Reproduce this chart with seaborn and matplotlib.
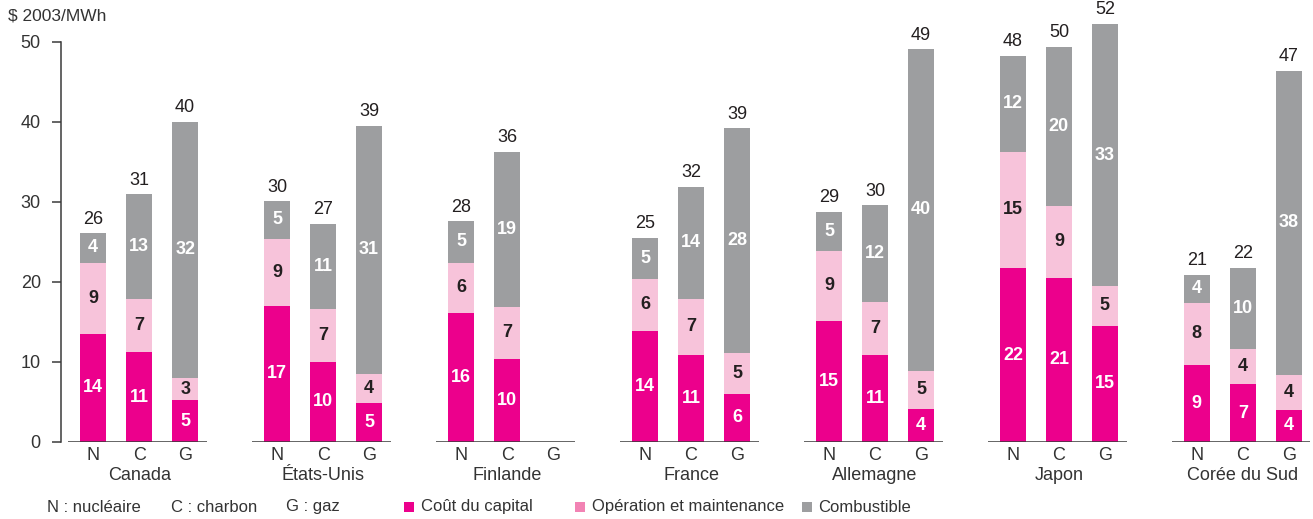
import numpy as np
import pandas as pd
import matplotlib
matplotlib.use("Agg")
import matplotlib.pyplot as plt
from matplotlib.patches import Rectangle
import seaborn as sns

# ---------------- data ----------------
countries = ["Canada", "États-Unis", "Finlande", "France", "Allemagne", "Japon", "Corée du Sud"]
techs = ["N", "C", "G"]

capital = [[13.5, 11.25, 5.25], [17.0, 10.0, 4.9], [16.1, 10.4, None], [13.9, 10.9, 6.0],
           [15.1, 10.9, 4.1], [21.75, 20.5, 14.5], [9.6, 7.25, 4.0]]
om = [[8.9, 6.6, 2.75], [8.4, 6.6, 3.6], [6.3, 6.5, None], [6.5, 7.0, 5.1],
      [8.8, 6.6, 4.8], [14.5, 9.0, 5.0], [7.8, 4.4, 4.4]]
fuel = [[3.7, 13.1, 32.0], [4.7, 10.65, 31.0], [5.2, 19.4, None], [5.1, 14.0, 28.1],
        [4.85, 12.1, 40.2], [12.0, 19.9, 32.75], [3.5, 10.1, 38.0]]

cap_labels = [[14, 11, 5], [17, 10, 5], [16, 10, None], [14, 11, 6], [15, 11, 4], [22, 21, 15], [9, 7, 4]]
om_labels = [[9, 7, 3], [9, 7, 4], [6, 7, None], [6, 7, 5], [9, 7, 5], [15, 9, 5], [8, 4, 4]]
fuel_labels = [[4, 13, 32], [5, 11, 31], [5, 19, None], [5, 14, 28], [5, 12, 40], [12, 20, 33], [4, 10, 38]]
total_labels = [[26, 31, 40], [30, 27, 39], [28, 36, None], [25, 32, 39], [29, 30, 49], [48, 50, 52], [21, 22, 47]]

y_ticks = [0, 10, 20, 30, 40, 50]
unit_label = "$ 2003/MWh"
type_legend = ["N : nucléaire", "C : charbon", "G : gaz"]
series_names = ["Coût du capital", "Opération et maintenance", "Combustible"]

# ---------------- style ----------------
MAGENTA = "#EC008C"
PINK = "#F7C3DA"
PINK_LEG = "#F283B4"
GRAY = "#9D9EA0"
DARK = "#231F20"
AXC = "#3A3A3A"

sns.set_theme(style="white")
plt.rcParams["font.family"] = ["Liberation Sans", "DejaVu Sans"]

rows = []
for g, c in enumerate(countries):
    for i, t in enumerate(techs):
        if capital[g][i] is None:
            continue
        cap = capital[g][i]
        co = cap + om[g][i]
        tot = co + fuel[g][i]
        rows.append(dict(pos=4 * g + i, country=c, tech=t, cap=cap, capom=co, total=tot,
                         l_cap=cap_labels[g][i], l_om=om_labels[g][i],
                         l_fuel=fuel_labels[g][i], l_tot=total_labels[g][i]))
df = pd.DataFrame(rows)

W, H = 1313, 519
fig = plt.figure(figsize=(W / 100, H / 100), dpi=100)
ax = fig.add_axes([61 / W, 77 / H, (1310 - 61) / W, 440 / H])

bw = 0.565
for col, colr in [("total", GRAY), ("capom", PINK), ("cap", MAGENTA)]:
    sns.barplot(data=df, x="pos", y=col, native_scale=True, color=colr, saturation=1,
                width=bw, errorbar=None, linewidth=0, edgecolor="none", ax=ax)

# segment labels
fs_seg = 13
for _, r in df.iterrows():
    x = r["pos"]
    ax.text(x, r["cap"] / 2, str(r["l_cap"]), ha="center", va="center", color="white",
            fontsize=fs_seg, fontweight="bold")
    ax.text(x, (r["cap"] + r["capom"]) / 2, str(r["l_om"]), ha="center", va="center", color=DARK,
            fontsize=fs_seg, fontweight="bold")
    ax.text(x, (r["capom"] + r["total"]) / 2, str(r["l_fuel"]), ha="center", va="center", color="white",
            fontsize=fs_seg, fontweight="bold")
    ax.annotate(str(r["l_tot"]), (x, r["total"]), xytext=(0, 4), textcoords="offset points",
                ha="center", va="bottom", color=DARK, fontsize=13)

# group baselines
for g in range(len(countries)):
    ax.hlines(0, 4 * g - 0.54, 4 * g + 2.47, color=AXC, linewidth=1.1, zorder=5)

ax.set_xlim(-0.70, 26.46)
ax.set_ylim(0, 55)
ax.set_xlabel("")
ax.set_ylabel("")

all_pos = [4 * g + i for g in range(len(countries)) for i in range(3)]
ax.set_xticks(all_pos)
ax.set_xticklabels(techs * len(countries), fontsize=13, color="#333333")
ax.tick_params(axis="x", length=0, pad=3.5)
ax.set_yticks(y_ticks)
ax.set_yticklabels([str(v) for v in y_ticks], fontsize=13, color="#333333")
ax.tick_params(axis="y", length=6.5, width=1.1, color=AXC, direction="out", pad=8, left=True)

for s in ["top", "right", "bottom"]:
    ax.spines[s].set_visible(False)
ax.spines["left"].set_bounds(0, 50)
ax.spines["left"].set_color(AXC)
ax.spines["left"].set_linewidth(1.1)

# country names
for g, c in enumerate(countries):
    ax.annotate(c, (4 * g + 1, 0), xytext=(0, -34), textcoords="offset pixels",
                ha="center", va="center", fontsize=13, color="#333333", annotation_clip=False)

# unit label
fig.text(8 / W, 1 - 16 / H, unit_label, ha="left", va="center", fontsize=12.5, color="#333333")

# legend
ly = 1 - 507 / H
for txt, x in zip(type_legend, [47, 171, 286]):
    fig.text(x / W, ly, txt, ha="left", va="center", fontsize=12, color="#333333")
for name, colr, xs, xt in zip(series_names, [MAGENTA, PINK_LEG, GRAY], [404, 575, 802], [421, 592, 818]):
    fig.patches.append(Rectangle((xs / W, ly - 5 / H), 10 / W, 10 / H, transform=fig.transFigure,
                                 facecolor=colr, edgecolor="none"))
    fig.text(xt / W, ly, name, ha="left", va="center", fontsize=12, color="#333333")

fig.savefig("out.png", dpi=100)
